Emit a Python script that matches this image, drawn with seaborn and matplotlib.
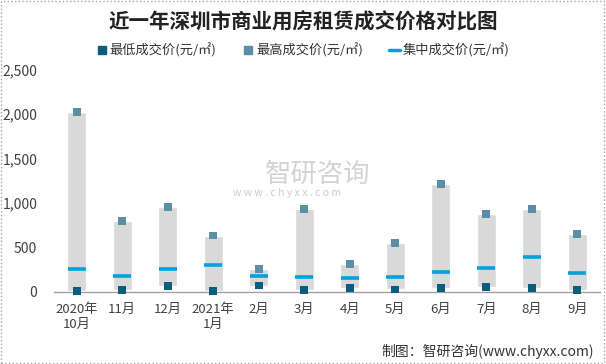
import numpy as np
import pandas as pd
import seaborn as sns
import matplotlib.pyplot as plt
from matplotlib.lines import Line2D
from matplotlib.patches import Rectangle
from matplotlib.ticker import FuncFormatter

months = ["2020年\n10月", "11月", "12月", "2021年\n1月", "2月", "3月",
          "4月", "5月", "6月", "7月", "8月", "9月"]
low_price = [12, 18, 65, 12, 72, 25, 45, 28, 45, 56, 45, 22]
high_price = [2030, 800, 955, 635, 260, 932, 312, 552, 1214, 880, 932, 655]
mid_price = [255, 177, 255, 300, 177, 165, 154, 165, 221, 266, 390, 210]

sns.set_style("white")
plt.rcParams['font.family'] = ['Noto Sans CJK SC', 'DejaVu Sans']

df = pd.DataFrame({"month": months, "low": low_price, "high": high_price,
                   "mid": mid_price})
df["span"] = df["high"] - df["low"]
df["pos"] = np.arange(len(df))

fig = plt.figure(figsize=(6.06, 3.64), dpi=100)
ax = fig.add_axes([0.089, 0.198, 0.901, 0.610])

# grey floating range bars
sns.barplot(data=df, x="month", y="span", bottom=df["low"], color="#d9d9d9",
            width=0.42, errorbar=None, saturation=1, ax=ax)

c_low, c_high, c_mid = "#0b5d80", "#5b8fa8", "#00a3dd"
sns.scatterplot(data=df, x="pos", y="mid", marker="_", s=170, linewidth=2.6,
                color=c_mid, ax=ax, zorder=3)
sns.scatterplot(data=df, x="pos", y="low", marker="s", s=32, color=c_low,
                edgecolor="none", ax=ax, zorder=4, clip_on=False)
sns.scatterplot(data=df, x="pos", y="high", marker="s", s=32, color=c_high,
                edgecolor="none", ax=ax, zorder=4)

ax.set_xlim(-0.5, 11.5)
ax.set_ylim(0, 2500)
ax.set_yticks(range(0, 2501, 500))
ax.yaxis.set_major_formatter(FuncFormatter(lambda v, p: f"{int(v):,}"))
ax.set_xticks(range(len(months)))
ax.set_xticklabels(months)
ax.set_xlabel("")
ax.set_ylabel("")
ax.tick_params(axis="x", length=0, labelsize=9.5, colors="#404040", pad=8)
ax.tick_params(axis="y", length=0, labelsize=10, colors="#404040", pad=12)
for s in ["top", "right", "left"]:
    ax.spines[s].set_visible(False)
ax.spines["bottom"].set_color("#a0a0a0")
ax.spines["bottom"].set_linewidth(1)

fig.text(0.5, 0.94, "近一年深圳市商业用房租赁成交价格对比图", ha="center",
         va="center", fontsize=14.8, fontweight="bold", color="#222222")

handles = [
    Line2D([], [], marker="s", linestyle="none", color=c_low, markersize=6),
    Line2D([], [], marker="s", linestyle="none", color=c_high, markersize=6),
    Line2D([], [], color=c_mid, linewidth=2.5),
]
fig.legend(handles, ["最低成交价(元/㎡)", "最高成交价(元/㎡)", "集中成交价(元/㎡)"],
           loc="center", bbox_to_anchor=(0.5, 0.862), ncol=3, frameon=False,
           fontsize=9.5, handlelength=0.8, handletextpad=0.2, columnspacing=2.0,
           labelcolor="#333333")

# watermark
fig.text(0.437, 0.52, "智研咨询", fontsize=19, color="#c8c8c8", alpha=0.8,
         ha="left", va="center")
fig.text(0.385, 0.47, "w w w . c h y x x . c o m", fontsize=7.5, color="#c0c0c0",
         alpha=0.8, ha="left", va="center")
fig.text(0.98, 0.035, "制图：智研咨询(www.chyxx.com)", ha="right", va="center",
         fontsize=10, color="#333333")

fig.patches.append(Rectangle((0.002, 0.003), 0.995, 0.994, transform=fig.transFigure,
                             fill=False, edgecolor="#a6a6a6", linewidth=1,
                             linestyle=":"))

fig.savefig("out.png", dpi=100)
